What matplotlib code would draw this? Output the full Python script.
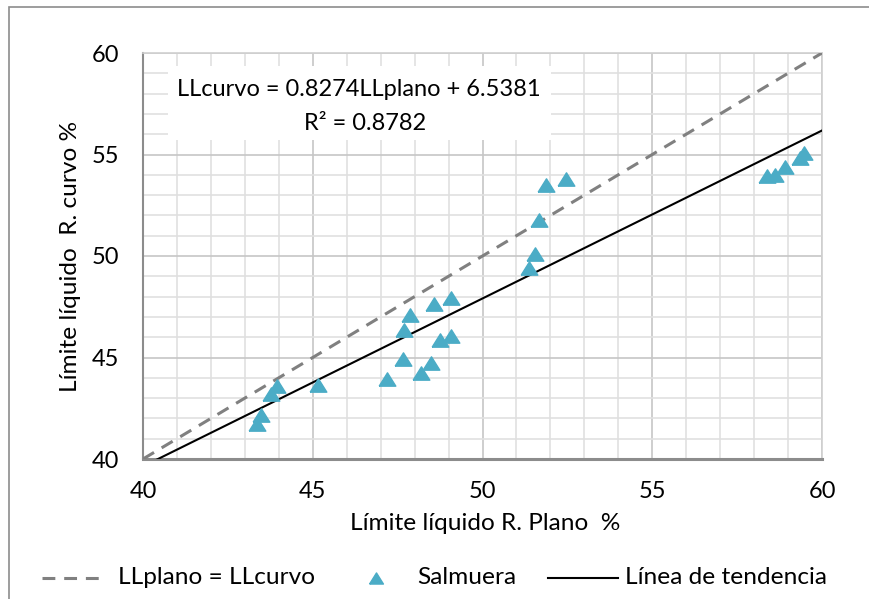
import matplotlib
matplotlib.use("Agg")
import matplotlib.pyplot as plt
import numpy as np
from matplotlib.patches import Rectangle
from matplotlib.lines import Line2D
from matplotlib.transforms import Affine2D

plt.rcParams['font.family'] = ['Lato', 'DejaVu Sans']

# Data
ll_plano = [43.37, 43.49, 43.78, 43.96, 45.14, 47.18, 47.65, 47.68, 47.86, 48.18,
            48.48, 48.57, 48.74, 49.07, 49.07, 51.37, 51.55, 51.67, 51.88, 52.47,
            58.38, 58.62, 58.90, 59.35, 59.47]
ll_curvo = [41.72, 42.15, 43.20, 43.60, 43.65, 43.95, 44.95, 46.35, 47.10, 44.25,
            44.75, 47.65, 45.85, 47.95, 46.05, 49.40, 50.10, 51.75, 53.50, 53.80,
            53.95, 54.00, 54.40, 54.85, 55.05]
slope, intercept = 0.8274, 6.5381
eq_lines = ["LLcurvo = 0.8274LLplano + 6.5381", "R² = 0.8782"]
ticks = [40, 45, 50, 55, 60]
legend_labels = ["LLplano = LLcurvo", "Salmuera", "Línea de tendencia"]

W, H = 870, 599
FS = 17
FS2 = 17.6
AQUA = '#4BACC6'
GREY = '#808080'
tri = [(-1, -0.8), (1, -0.8), (0, 0.8), (-1, -0.8)]

fig = plt.figure(figsize=(W/100, H/100), dpi=100)
ax = fig.add_axes([143/W, 1-459/H, (822-143)/W, (459-53)/H])

ax.set_xlim(40, 60)
ax.set_ylim(40, 60)
ax.set_xticks(ticks)
ax.set_yticks(ticks)
ax.set_xticks(np.arange(40, 61, 1), minor=True)
ax.set_yticks(np.arange(40, 61, 1), minor=True)
ax.grid(which='minor', color='#e0e0e0', lw=1.2, zorder=0)
ax.grid(which='major', color='#c6c6c6', lw=1.2, zorder=0)
ax.set_axisbelow(True)
ax.tick_params(which='both', length=0)
ax.tick_params(axis='x', pad=16, labelsize=FS)
ax.tick_params(axis='y', pad=17, labelsize=FS)
for s in ['top', 'right']:
    ax.spines[s].set_color('#d0d0d0')
    ax.spines[s].set_linewidth(1.2)
ax.spines['left'].set_color('#8c8c8c')
ax.spines['left'].set_linewidth(1.5)
ax.spines['bottom'].set_color('#8c8c8c')
ax.spines['bottom'].set_linewidth(2.2)

# Equation box
ax.add_patch(Rectangle((40.74, 55.69), 52.02-40.74, 59.36-55.69, facecolor='white',
                       edgecolor='none', zorder=1))
ax.text(46.36, 58.22, eq_lines[0], ha='center', va='center', fontsize=FS, zorder=2)
ax.text(46.55, 56.55, eq_lines[1], ha='center', va='center', fontsize=FS, zorder=2)

xs = np.array([40, 60])
ax.plot(xs, xs, color=GREY, lw=2.2, dashes=(4.2, 2.9), zorder=3)
ax.plot(xs, slope*xs + intercept, color='black', lw=1.5, zorder=3)
ax.plot(ll_plano, ll_curvo, linestyle='none', marker=tri, ms=12,
        color=AQUA, zorder=4)

ax.set_xlabel("Límite líquido R. Plano  %", fontsize=FS2)
ax.xaxis.label.set_va('center')
ax.xaxis.set_label_coords((485-143)/679, -(524-459)/406)
ax.set_ylabel("Límite líquido  R. curvo %", fontsize=FS2)
ax.yaxis.label.set_va('center')
ax.yaxis.set_label_coords(-(143-71)/679, (459-256)/406)

# Legend drawn in figure pixel coordinates
px = Affine2D().scale(1/W, 1/H) + fig.transFigure
ly = H - 578
fig.add_artist(Line2D([42, 100], [ly, ly], color=GREY, lw=2.2, dashes=(4.2, 2.9),
                      transform=px))
fig.text(118/W, ly/H, legend_labels[0], fontsize=FS2, va='center', ha='left')
fig.add_artist(Line2D([376], [ly], marker=tri, ms=10, color=AQUA, linestyle='none',
                      transform=px))
fig.text(417/W, ly/H, legend_labels[1], fontsize=FS2, va='center', ha='left')
fig.add_artist(Line2D([548, 618], [ly, ly], color='black', lw=1.5, transform=px))
fig.text(625/W, ly/H, legend_labels[2], fontsize=FS2, va='center', ha='left')

fig.add_artist(Rectangle((9/W, -0.1), 2, 1.1 - 7/H, transform=fig.transFigure,
                         facecolor='none', edgecolor='#8c8c8c', lw=1.2))

fig.savefig("out.png", dpi=100)
